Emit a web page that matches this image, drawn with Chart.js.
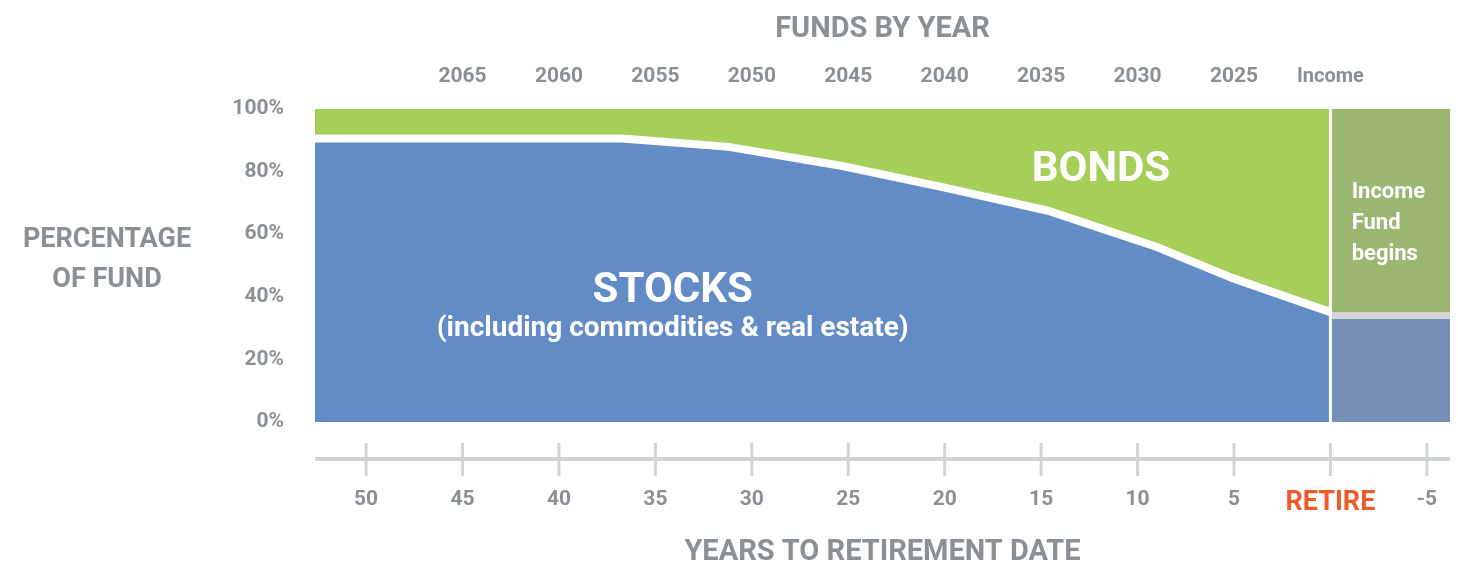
<!DOCTYPE html>
<html>
<head>
<meta charset="utf-8">
<script src="https://cdn.jsdelivr.net/npm/chart.js@4/dist/chart.umd.min.js"></script>
<style>
  html, body { margin: 0; padding: 0; background: #fff; }
  #wrap { position: relative; width: 1458px; height: 572px; }
</style>
</head>
<body>
<div id="wrap"><canvas id="glide-path-chart"></canvas></div>
<script>
// Glide path data (x = years to retirement, y = % of fund in stocks)
var stockYears = [53, 36.7, 31.2, 25.3, 20, 14.65, 9, 5, 0];
var stockPct = [90.6, 90.6, 87.9, 81.8, 74.9, 67.5, 55.9, 45.8, 35.1];
var incomeYears = [0, -7];
var incomeStockPct = [34.0, 34.0];
var bottomTicks = [50, 45, 40, 35, 30, 25, 20, 15, 10, 5, 0, -5];
var fundTicks = [45, 40, 35, 30, 25, 20, 15, 10, 5, 0];
var fundLabels = ['2065', '2060', '2055', '2050', '2045', '2040', '2035', '2030', '2025', 'Income'];
var pctTicks = [0, 20, 40, 60, 80, 100];

var FONT = 'Roboto, "Liberation Sans", sans-serif';
var GRAY = '#8b9095';

function pts(xs, ys) {
    return xs.map(function (x, i) { return { x: x, y: ys[i] }; });
}
function flat(xs, v) {
    return xs.map(function (x) { return { x: x, y: v }; });
}
// keep the plot edges where they are, labels may overflow
function noPad(scale) {
    scale.paddingLeft = 0;
    scale.paddingRight = 0;
}

// Axis line with cross ticks, plus in-chart labels
var decorPlugin = {
    id: 'decor',
    afterDraw: function (chart) {
        var ctx = chart.ctx;
        var x = chart.scales.x, y = chart.scales.y;
        var area = chart.chartArea;
        var lineY = area.bottom + 37;
        ctx.save();
        ctx.strokeStyle = '#d1d4d7';
        ctx.lineWidth = 4;
        ctx.beginPath();
        ctx.moveTo(area.left, lineY);
        ctx.lineTo(area.right, lineY);
        ctx.stroke();
        ctx.lineWidth = 3;
        bottomTicks.forEach(function (t) {
            var px = x.getPixelForValue(t);
            ctx.beginPath();
            ctx.moveTo(px, lineY - 16);
            ctx.lineTo(px, lineY + 17);
            ctx.stroke();
        });

        // y axis title
        ctx.fillStyle = GRAY;
        ctx.textAlign = 'center';
        ctx.textBaseline = 'middle';
        ctx.font = 'bold 27px ' + FONT;
        ctx.fillText('PERCENTAGE', 107, 240);
        ctx.fillText('OF FUND', 107, 280);

        // area labels
        ctx.fillStyle = '#ffffff';
        ctx.font = 'bold 42px ' + FONT;
        ctx.fillText('STOCKS', x.getPixelForValue(34.1), y.getPixelForValue(41.8));
        ctx.font = 'bold 28px ' + FONT;
        ctx.fillText('(including commodities & real estate)', x.getPixelForValue(34.1), y.getPixelForValue(29.8));
        ctx.font = 'bold 42px ' + FONT;
        ctx.fillText('BONDS', x.getPixelForValue(11.9), y.getPixelForValue(80.5));
        ctx.textAlign = 'left';
        ctx.font = 'bold 22px ' + FONT;
        var ix = x.getPixelForValue(-1.1);
        ctx.fillText('Income', ix, y.getPixelForValue(73.4));
        ctx.fillText('Fund', ix, y.getPixelForValue(63.5));
        ctx.fillText('begins', ix, y.getPixelForValue(53.6));
        ctx.restore();
    }
};

var ctx = document.getElementById('glide-path-chart').getContext('2d');
var glideChart = new Chart(ctx, {
    type: 'line',
    data: {
        datasets: [{
            label: 'Bonds',
            data: flat([53, 0], 100),
            backgroundColor: '#a5cf59',
            borderWidth: 0,
            fill: 'origin',
            order: 5
        }, {
            label: 'Income bonds',
            data: flat(incomeYears, 100),
            backgroundColor: '#9bb670',
            borderWidth: 0,
            fill: 'origin',
            order: 4
        }, {
            label: 'Stocks',
            data: pts(stockYears, stockPct),
            backgroundColor: '#638cc6',
            borderColor: '#ffffff',
            borderWidth: 8,
            fill: 'origin',
            order: 3
        }, {
            label: 'Income stocks',
            data: pts(incomeYears, incomeStockPct),
            backgroundColor: '#748fb4',
            borderColor: '#d3d5d6',
            borderWidth: 7,
            fill: 'origin',
            order: 2
        }, {
            label: 'Retire',
            data: [{ x: 0, y: 0 }, { x: 0, y: 100 }],
            borderColor: '#ffffff',
            borderWidth: 3,
            fill: false,
            order: 1
        }]
    },
    options: {
        responsive: true,
        maintainAspectRatio: false,
        animation: false,
        layout: { padding: { left: 0, right: 8, top: 0, bottom: 0 } },
        elements: { point: { radius: 0 }, line: { tension: 0 } },
        datasets: { line: { clip: 0 } },
        plugins: { legend: { display: false }, tooltip: { enabled: false } },
        scales: {
            x: {
                type: 'linear',
                position: 'bottom',
                reverse: true,
                min: -6.2,
                max: 52.65,
                afterBuildTicks: function (scale) {
                    scale.ticks = bottomTicks.map(function (v) { return { value: v }; });
                },
                afterFit: function (scale) { scale.height = 150; noPad(scale); },
                grid: { display: false },
                border: { display: false },
                ticks: {
                    autoSkip: false,
                    maxRotation: 0,
                    padding: 57,
                    callback: function (v) { return v === 0 ? 'RETIRE' : String(v); },
                    color: function (c) { return c.tick && c.tick.value === 0 ? '#f15a2b' : GRAY; },
                    font: function (c) {
                        return c.tick && c.tick.value === 0
                            ? { family: FONT, size: 27, weight: 'bold' }
                            : { family: FONT, size: 21, weight: 'bold' };
                    }
                },
                title: {
                    display: true,
                    text: 'YEARS TO RETIREMENT DATE',
                    color: GRAY,
                    font: { family: FONT, size: 29, weight: 'bold' },
                    padding: { top: 0, bottom: 2 }
                }
            },
            x2: {
                type: 'linear',
                position: 'top',
                reverse: true,
                min: -6.2,
                max: 52.65,
                afterBuildTicks: function (scale) {
                    scale.ticks = fundTicks.map(function (v) { return { value: v }; });
                },
                afterFit: function (scale) { scale.height = 109; noPad(scale); },
                grid: { display: false },
                border: { display: false },
                ticks: {
                    autoSkip: false,
                    maxRotation: 0,
                    padding: 12,
                    color: GRAY,
                    font: function (c) {
                        return c.tick && c.tick.value === 0
                            ? { family: FONT, size: 20, weight: 'bold' }
                            : { family: FONT, size: 21, weight: 'bold' };
                    },
                    callback: function (v) {
                        var i = fundTicks.indexOf(v);
                        return i >= 0 ? fundLabels[i] : '';
                    }
                },
                title: {
                    display: true,
                    text: 'FUNDS BY YEAR',
                    color: GRAY,
                    font: { family: FONT, size: 29, weight: 'bold' },
                    padding: { top: 12, bottom: 0 }
                }
            },
            y: {
                min: 0,
                max: 100,
                afterBuildTicks: function (scale) {
                    scale.ticks = pctTicks.map(function (v) { return { value: v }; });
                },
                afterFit: function (scale) { scale.width = 315; },
                grid: { display: false },
                border: { display: false },
                ticks: {
                    padding: 23,
                    color: GRAY,
                    font: { family: FONT, size: 21, weight: 'bold' },
                    callback: function (v) { return v + '%'; }
                }
            }
        }
    },
    plugins: [decorPlugin]
});
</script>
</body>
</html>
